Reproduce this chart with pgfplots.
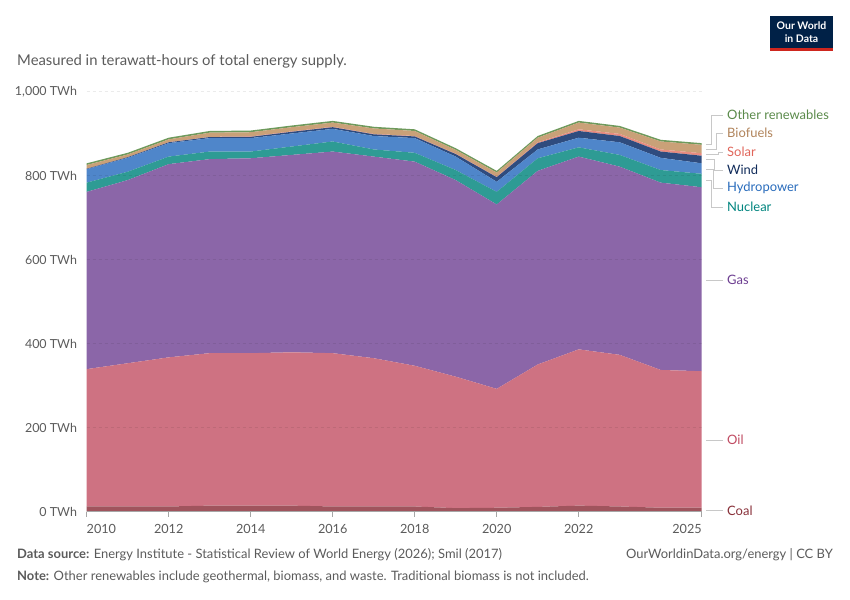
\documentclass[border=0pt]{standalone}
\usepackage{pgfplots}
\pgfplotsset{compat=1.18}
\usepackage{pgfplotstable}
\usepackage{fontspec}
\setmainfont{Lato}

\definecolor{ccoal}{HTML}{A0545D}
\definecolor{coil}{HTML}{CE7282}
\definecolor{cgas}{HTML}{8B66A8}
\definecolor{cnuc}{HTML}{2E9B94}
\definecolor{chyd}{HTML}{4F86CA}
\definecolor{cwind}{HTML}{2F4C7E}
\definecolor{csolar}{HTML}{E88C80}
\definecolor{cbio}{HTML}{C9A178}
\definecolor{coth}{HTML}{6E9A5C}

\definecolor{tcoal}{HTML}{883039}
\definecolor{toil}{HTML}{C04B62}
\definecolor{tgas}{HTML}{6D3E91}
\definecolor{tnuc}{HTML}{00847E}
\definecolor{thyd}{HTML}{286BBB}
\definecolor{twind}{HTML}{102B5A}
\definecolor{tsolar}{HTML}{E0655A}
\definecolor{tbio}{HTML}{B0835A}
\definecolor{toth}{HTML}{5A8A4A}
\definecolor{tgray}{HTML}{5B5B5B}
\definecolor{lgray}{HTML}{C8C8C8}
\definecolor{owidblue}{HTML}{002147}
\definecolor{owidred}{HTML}{CE261E}

\pgfplotstableread{
year coal oil gas nuclear hydro wind solar bio other
2010 12 327 422 22 32 1 0 9 4
2011 12 341 436 20 33 1.5 0 6.5 4
2012 12 355 460 18 32 2 0.5 6.5 4
2013 14 363 462 18 32 2.5 0.5 10 4
2014 14 363 464 16 32 3 1 10 4
2015 14 365 470 20 31 4 1 10 4
2016 12 365 480 24 30 4 1 10 4
2017 12 353 480 17 32 4 1 13 4
2018 12 335 486 21 35 4 1 12 4
2019 8 313 468 24 32 6 1 9 4
2020 9 283 439 30 24 11 1 10 4
2021 11 339 461 30 21 15 2 11 4
2022 14 372 459 22 23 16 4 16 4
2023 12 361 448 28 30 15 5 15 4
2024 9 328 446 30 29 15 5 19 4
2025 9 325 438 32 25 18 6 20 4
}\datatable

\begin{document}
\begin{tikzpicture}
\begin{axis}[
  at={(86.7bp,88.5bp)}, anchor=south west,
  scale only axis, width=615bp, height=420bp,
  xmin=2010, xmax=2025, ymin=0, ymax=1000,
  stack plots=y, axis on top,
  axis x line*=bottom, axis y line*=left,
  x axis line style={-, draw=black!35, line width=0.8bp},
  y axis line style={draw=none},
  xtick={2010,2012,2014,2016,2018,2020,2022,2025},
  xticklabels={\makebox[0pt][l]{2010},2012,2014,2016,2018,2020,2022,\makebox[0pt][r]{2025}},
  ytick={0,200,400,600,800,1000},
  yticklabels={0 TWh,200 TWh,400 TWh,600 TWh,800 TWh,{1,000 TWh}},
  tick align=outside,
  major tick length=5bp,
  xtick style={draw=black!35, line width=0.8bp},
  ytick style={draw=none},
  xticklabel style={font=\fontsize{12.7}{12.7}\selectfont, text=tgray, inner sep=0pt, anchor=north, yshift=-8bp},
  yticklabel style={font=\fontsize{12.5}{12.5}\selectfont, text=tgray, inner sep=0pt, anchor=east, xshift=-4.5bp},
  ymajorgrids,
  major grid style={dash pattern=on 3bp off 3bp, draw=black, opacity=0.08, line width=0.8bp},
  every axis plot/.append style={draw=none},
]
\addplot[fill=ccoal, draw=none] table[x=year,y=coal]{\datatable} \closedcycle;
\addplot[fill=coil, draw=none] table[x=year,y=oil]{\datatable} \closedcycle;
\addplot[fill=cgas, draw=none] table[x=year,y=gas]{\datatable} \closedcycle;
\addplot[fill=cnuc, draw=none] table[x=year,y=nuclear]{\datatable} \closedcycle;
\addplot[fill=chyd, draw=none] table[x=year,y=hydro]{\datatable} \closedcycle;
\addplot[fill=cwind, draw=none] table[x=year,y=wind]{\datatable} \closedcycle;
\addplot[fill=csolar, draw=none] table[x=year,y=solar]{\datatable} \closedcycle;
\addplot[fill=cbio, draw=none] table[x=year,y=bio]{\datatable} \closedcycle;
\addplot[fill=coth, draw=none] table[x=year,y=other]{\datatable} \closedcycle;
\end{axis}

\begin{scope}[x=1bp,y=-1bp,shift={(0,600bp)}]
\path[use as bounding box] (0,0) rectangle (850,600);

% subtitle
\node[anchor=base west, inner sep=0pt, text=tgray, font=\fontsize{14.9}{14.9}\selectfont] at (17,66) {Measured in terawatt-hours of total energy supply.};

% logo
\fill[owidblue] (770,16) rectangle (833,51);
\fill[owidred] (770,48) rectangle (833,51);
\node[text=white, font=\bfseries\fontsize{10.5}{10.5}\selectfont, inner sep=0pt] at (801.5,26) {Our World};
\node[text=white, font=\bfseries\fontsize{10.5}{10.5}\selectfont, inner sep=0pt] at (801.5,39) {in Data};

% connectors
\begin{scope}[draw=lgray, line width=0.8bp]
\draw (706,144) -- (711,144) -- (711,115) -- (723,115);
\draw (706,149) -- (716,149) -- (716,133) -- (723,133);
\draw (706,154.5) -- (718,154.5) -- (718,152) -- (723,152);
\draw (706,159.5) -- (714,159.5) -- (714,170) -- (723,170);
\draw (706,169) -- (713,169) -- (713,188) -- (723,188);
\draw (706,180.5) -- (711,180.5) -- (711,207) -- (723,207);
\draw (706,280) -- (723,280);
\draw (706,440) -- (723,440);
\draw (706,510.5) -- (723,510.5);
\end{scope}

\begin{scope}[every node/.style={anchor=west, inner sep=0pt, font=\fontsize{13}{13}\selectfont}]
\node[text=toth] at (727,115) {Other renewables};
\node[text=tbio] at (727,133) {Biofuels};
\node[text=tsolar] at (727,152) {Solar};
\node[text=twind] at (727,170) {Wind};
\node[text=thyd] at (727,188) {Hydropower};
\node[text=tnuc] at (727,207) {Nuclear};
\node[text=tgas] at (727,280) {Gas};
\node[text=toil] at (727,440) {Oil};
\node[text=tcoal] at (727,510.5) {Coal};
\end{scope}

% footer
\node[anchor=base west, inner sep=0pt, text=tgray, font=\fontsize{13}{13}\selectfont] at (17,559) {\textbf{Data source:} Energy Institute - Statistical Review of World Energy (2026); Smil (2017)};
\node[anchor=base east, inner sep=0pt, text=tgray, font=\fontsize{13}{13}\selectfont] at (833,559) {OurWorldinData.org/energy | CC BY};
\node[anchor=base west, inner sep=0pt, text=tgray, font=\fontsize{13}{13}\selectfont] at (17,581) {\textbf{Note:} Other renewables include geothermal, biomass, and waste. Traditional biomass is not included.};
\end{scope}
\end{tikzpicture}
\end{document}
